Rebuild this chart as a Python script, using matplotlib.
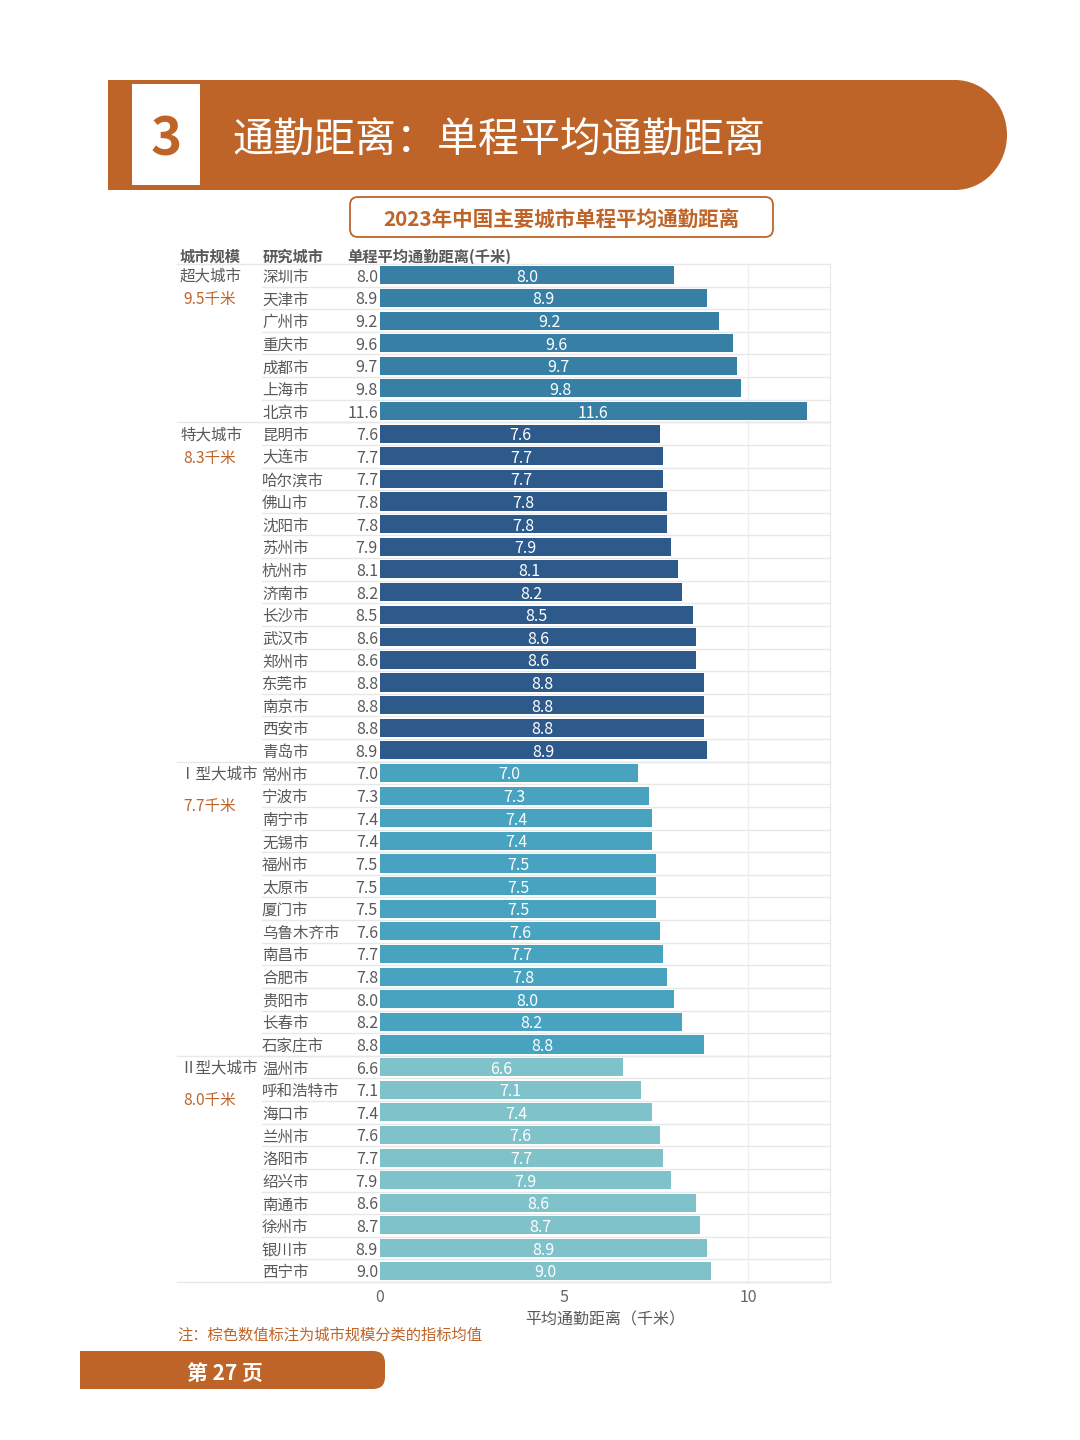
import numpy as np
import matplotlib
matplotlib.use("Agg")
import matplotlib.pyplot as plt
from matplotlib.patches import Rectangle, Ellipse, FancyBboxPatch
from matplotlib.transforms import blended_transform_factory

plt.rcParams['font.family'] = ['Noto Sans CJK SC', 'DejaVu Sans']

# 数据
groups = ['超大城市', '特大城市', 'Ⅰ型大城市', 'Ⅱ型大城市']
group_avg = ['9.5千米', '8.3千米', '7.7千米', '8.0千米']
group_colors = ['#377fa5', '#2d5a8b', '#47a3bf', '#80c2ca']

cities_1 = ['深圳市', '天津市', '广州市', '重庆市', '成都市', '上海市', '北京市']
values_1 = [8.0, 8.9, 9.2, 9.6, 9.7, 9.8, 11.6]
cities_2 = ['昆明市', '大连市', '哈尔滨市', '佛山市', '沈阳市', '苏州市', '杭州市', '济南市',
            '长沙市', '武汉市', '郑州市', '东莞市', '南京市', '西安市', '青岛市']
values_2 = [7.6, 7.7, 7.7, 7.8, 7.8, 7.9, 8.1, 8.2, 8.5, 8.6, 8.6, 8.8, 8.8, 8.8, 8.9]
cities_3 = ['常州市', '宁波市', '南宁市', '无锡市', '福州市', '太原市', '厦门市', '乌鲁木齐市',
            '南昌市', '合肥市', '贵阳市', '长春市', '石家庄市']
values_3 = [7.0, 7.3, 7.4, 7.4, 7.5, 7.5, 7.5, 7.6, 7.7, 7.8, 8.0, 8.2, 8.8]
cities_4 = ['温州市', '呼和浩特市', '海口市', '兰州市', '洛阳市', '绍兴市', '南通市', '徐州市',
            '银川市', '西宁市']
values_4 = [6.6, 7.1, 7.4, 7.6, 7.7, 7.9, 8.6, 8.7, 8.9, 9.0]

all_cities = [cities_1, cities_2, cities_3, cities_4]
all_values = [values_1, values_2, values_3, values_4]

ORANGE = '#be6428'
GRAY = '#595959'
W, H = 1080, 1440
FS = 11.2

fig = plt.figure(figsize=(10.8, 14.4), dpi=100)
fig.patch.set_facecolor('white')

# 页面装饰层（像素坐标）
deco = fig.add_axes([0, 0, 1, 1])
deco.set_xlim(0, W)
deco.set_ylim(H, 0)
deco.axis('off')

# 顶部标题栏
deco.add_patch(Rectangle((108, 80), 850, 110, color=ORANGE, lw=0))
deco.add_patch(Ellipse((955, 135), 104, 110, color=ORANGE, lw=0))
deco.add_patch(Rectangle((132, 84), 68, 101, color='white', lw=0))
deco.text(166, 135, '3', color=ORANGE, fontsize=38, fontweight='bold',
          ha='center', va='center_baseline')
deco.text(232, 137, '通勤距离：单程平均通勤距离', color='white', fontsize=29.5,
          ha='left', va='center_baseline')

# 小标题框
deco.add_patch(FancyBboxPatch((350, 197), 423, 40,
                              boxstyle='round,pad=0,rounding_size=8',
                              fc='white', ec=ORANGE, lw=1.3))
deco.text(561, 218, '2023年中国主要城市单程平均通勤距离', color=ORANGE, fontsize=14.8,
          fontweight='bold', ha='center', va='center_baseline')

# 表头
for x, s in [(180, '城市规模'), (263, '研究城市'), (347, '单程平均通勤距离(千米)')]:
    deco.text(x, 255, s, color=GRAY, fontsize=11, fontweight='bold', ha='left',
              va='center_baseline')

# 注释与页码
deco.text(177, 1333, '注：棕色数值标注为城市规模分类的指标均值', color=ORANGE, fontsize=11,
          ha='left', va='center_baseline')
deco.add_patch(Rectangle((80, 1351), 280, 38, color=ORANGE, lw=0))
deco.add_patch(FancyBboxPatch((330, 1351), 55, 38, boxstyle='round,pad=0,rounding_size=12',
                              color=ORANGE, lw=0))
deco.text(187, 1371, '第 27 页', color='white', fontsize=15, fontweight='bold',
          ha='left', va='center_baseline')

# 主图
ax_l, ax_r, ax_t, ax_b = 380, 830, 264, 1282
ax = fig.add_axes([ax_l / W, 1 - ax_b / H, (ax_r - ax_l) / W, (ax_b - ax_t) / H])
ax.set_facecolor('none')

def px(x):
    return (x - ax_l) / (ax_r - ax_l)

tr = blended_transform_factory(ax.transAxes, ax.transData)

row = 0
avg_offset = [1.0, 1.0, 1.4, 1.4]
for g in range(4):
    cities = all_cities[g]
    vals = all_values[g]
    ys = np.arange(row, row + len(cities))
    ax.barh(ys, vals, height=0.8, color=group_colors[g], edgecolor='none', zorder=3)
    for y, c, v in zip(ys, cities, vals):
        ax.text(v / 2, y, f'{v:.1f}', color='white', fontsize=11.5, ha='center',
                va='center_baseline', zorder=4)
        ax.text(px(262), y, c, transform=tr, color=GRAY, fontsize=FS, ha='left',
                va='center_baseline')
        ax.text(px(378), y, f'{v:.1f}', transform=tr, color=GRAY, fontsize=11.5,
                ha='right', va='center_baseline')
        # 行分隔线
        ax.plot([px(262), 1], [y + 0.5, y + 0.5], transform=tr, color='#e8e8e8', lw=1,
                clip_on=False, zorder=1)
    ax.text(px(180), row, groups[g], transform=tr, color=GRAY, fontsize=FS, ha='left',
            va='center_baseline')
    ax.text(px(210), row + avg_offset[g], group_avg[g], transform=tr, color=ORANGE, fontsize=FS,
            ha='center', va='center_baseline')
    ax.plot([px(177), 1], [row - 0.5, row - 0.5], transform=tr, color='#e8e8e8', lw=1,
            clip_on=False, zorder=1)
    row += len(cities)

ax.plot([px(177), 1], [row - 0.5, row - 0.5], transform=tr, color='#e8e8e8', lw=1,
        clip_on=False, zorder=1)

ax.set_xlim(0, 12.23)
ax.set_ylim(row - 0.5, -0.5)
ax.set_yticks([])
ax.set_xticks([0, 5, 10])
ax.tick_params(axis='x', length=0, labelsize=11.5, labelcolor='#666666', pad=5)
ax.axvline(10, color='#f0f0f0', lw=1, zorder=0)
for s in ['top', 'left', 'bottom']:
    ax.spines[s].set_visible(False)
ax.spines['right'].set_color('#e8e8e8')
ax.set_xlabel('平均通勤距离（千米）', color=GRAY, fontsize=11.5, labelpad=4)

fig.savefig('out.png', dpi=100, facecolor='white')
